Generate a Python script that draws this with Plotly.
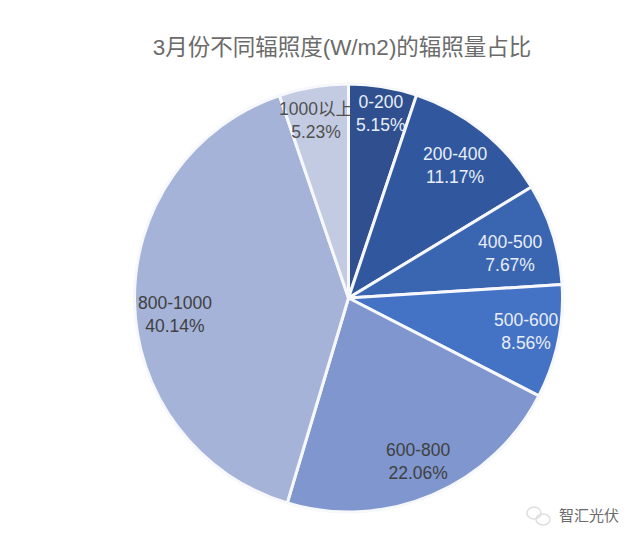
import plotly.graph_objects as go

categories = ["0-200", "200-400", "400-500", "500-600", "600-800", "800-1000", "1000以上"]
values = [5.15, 11.17, 7.67, 8.56, 22.06, 40.14, 5.23]
colors = ["#2f4f8f", "#31589f", "#3a65b0", "#4472c4", "#7f96cf", "#a5b3d9", "#c3cbe3"]
text_colors = ["#e8eefa", "#e8eefa", "#e8eefa", "#e8eefa", "#404040", "#404040", "#505050"]
# label centres in the reference picture, pixels
label_x = [381, 455, 510, 526, 418, 175, 316]
label_y = [113, 165, 254, 331, 461, 314, 120]

W, H = 640, 543
OFF = 8  # page body margin
FONT = "Liberation Sans, Noto Sans CJK SC"


def px(x):
    return (x - OFF) / W


def py(y):
    return 1 - (y - OFF) / H


anns = [
    dict(text=f"{c}<br>{v:.2f}%", x=px(x), y=py(y), xref="paper", yref="paper", showarrow=False,
         xanchor="center", yanchor="middle", font=dict(size=17.5, color=tc, family=FONT))
    for c, v, x, y, tc in zip(categories, values, label_x, label_y, text_colors)
]
anns.append(dict(text="智汇光伏", x=px(589), y=py(515), xref="paper", yref="paper", showarrow=False,
                 xanchor="center", yanchor="middle",
                 font=dict(size=15, color="#6a6a6a", family="Noto Sans CJK SC")))

fig = go.Figure(go.Pie(
    labels=categories, values=values, textinfo="none",
    sort=False, direction="clockwise", rotation=0,
    marker=dict(colors=colors, line=dict(color="#f7f8fc", width=3)),
    domain=dict(x=[px(134), px(563)], y=[py(512), py(84)]),
    showlegend=False, hoverinfo="skip",
))
fig.update_layout(
    width=W, height=H, paper_bgcolor="white",
    margin=dict(l=0, r=0, t=0, b=0),
    title=dict(text="3月份不同辐照度(W/m2)的辐照量占比", x=px(342), xanchor="center", y=py(47), yanchor="middle",
               font=dict(size=22.5, color="#6b6b6b", family=FONT)),
    annotations=anns,
    shapes=[
        dict(type="circle", xref="paper", yref="paper", x0=px(527), x1=px(541), y0=py(519), y1=py(507),
             line=dict(color="#dedede", width=1.5)),
        dict(type="circle", xref="paper", yref="paper", x0=px(536), x1=px(550), y0=py(525), y1=py(514),
             line=dict(color="#dedede", width=1.5)),
    ],
)
fig.write_html("out.html")
